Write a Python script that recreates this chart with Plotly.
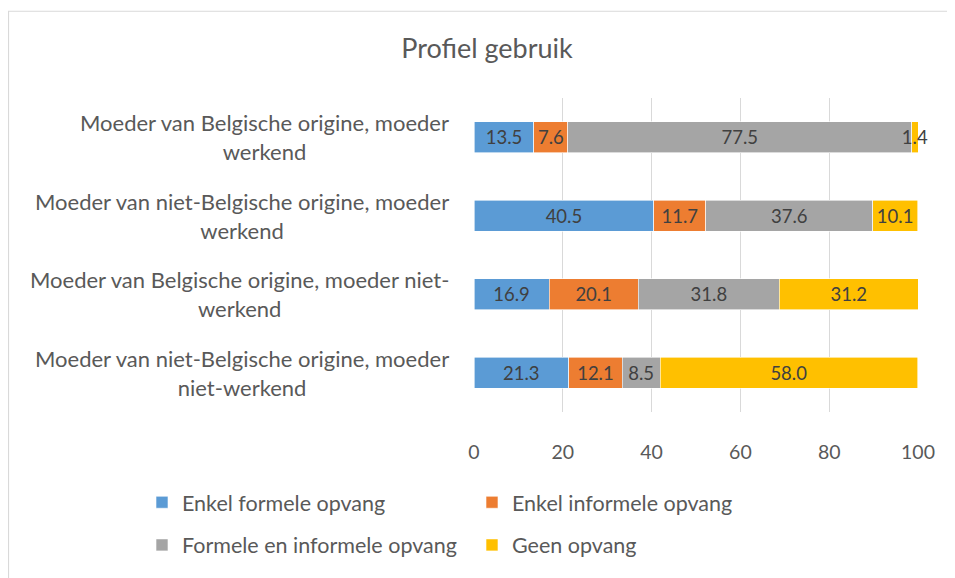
import plotly.graph_objects as go

categories = [
    "Moeder van Belgische origine, moeder werkend",
    "Moeder van niet-Belgische origine, moeder werkend",
    "Moeder van Belgische origine, moeder niet-werkend",
    "Moeder van niet-Belgische origine, moeder niet-werkend",
]
category_labels = [
    "Moeder van Belgische origine, moeder<br>werkend",
    "Moeder van niet-Belgische origine, moeder<br>werkend",
    "Moeder van Belgische origine, moeder niet-<br>werkend",
    "Moeder van niet-Belgische origine, moeder<br>niet-werkend",
]
series_names = [
    "Enkel formele opvang",
    "Enkel informele opvang",
    "Formele en informele opvang",
    "Geen opvang",
]
enkel_formele = [13.5, 40.5, 16.9, 21.3]
enkel_informele = [7.6, 11.7, 20.1, 12.1]
formele_en_informele = [77.5, 37.6, 31.8, 8.5]
geen_opvang = [1.4, 10.1, 31.2, 58.0]
x_ticks = [0, 20, 40, 60, 80, 100]
colors = ["#5B9BD5", "#ED7D31", "#A5A5A5", "#FFC000"]

FONT = "Lato"
TXT = "#595959"
OFF = 8  # page body margin
VW, VH = 955, 578
W, H = VW - OFF, VH - OFF
# plot area in reference (viewport) pixels
PL, PR, PT, PB = 474, 918, 98, 422
PW, PH = PR - PL, PB - PT

def px_x(p):
    return (p - PL) / PW

def px_y(p):
    return (PB - p) / PH

fig = go.Figure()
series = [enkel_formele, enkel_informele, formele_en_informele, geen_opvang]
legends = ["legend", "legend", "legend2", "legend2"]
for name, vals, col, lg in zip(series_names, series, colors, legends):
    fig.add_trace(go.Bar(
        y=categories, x=vals, name=name, orientation="h",
        marker=dict(color=col, line=dict(color="white", width=0.6)),
        text=vals, texttemplate="%{x:.1f}", textposition="inside",
        insidetextanchor="middle", constraintext="none", textangle=0,
        textfont=dict(family=FONT, size=18.5, color="#404040"),
        cliponaxis=False, legend=lg,
    ))

for cat, lab in zip(categories, category_labels):
    fig.add_annotation(
        x=px_x(451), xref="paper", y=cat, yref="y", text=lab,
        xanchor="right", yanchor="middle", align="center", showarrow=False,
        font=dict(family=FONT, size=22, color=TXT),
    )

# chart border (cropped)
fig.add_shape(type="rect", xref="paper", yref="paper",
              x0=px_x(8.5), x1=px_x(1200), y0=px_y(8.5), y1=px_y(800),
              line=dict(color="#D9D9D9", width=1.2), layer="below")

leg_common = dict(orientation="h", xanchor="left", yanchor="top",
                  entrywidth=285, font=dict(family=FONT, size=21.5, color=TXT),
                  bgcolor="rgba(0,0,0,0)", itemclick=False,
                  traceorder="normal")

fig.update_layout(
    width=W, height=H,
    margin=dict(l=PL - OFF, r=W - (PR - OFF), t=PT - OFF, b=H - (PB - OFF)),
    paper_bgcolor="white", plot_bgcolor="white",
    barmode="stack", bargap=0.6,
    title=dict(text="Profiel gebruik", x=px_x(487), xanchor="center",
               xref="paper", y=1 - (49 - OFF) / H, yanchor="middle",
               font=dict(family=FONT, size=27, color=TXT)),
    xaxis=dict(range=[0, 100], tickvals=x_ticks, showgrid=True,
               gridcolor="#D9D9D9", gridwidth=1.2, zeroline=False,
               showline=False, ticks="", ticklabelstandoff=26,
               tickfont=dict(family=FONT, size=19.5, color=TXT)),
    yaxis=dict(categoryorder="array", categoryarray=categories,
               autorange="reversed", showticklabels=False, showgrid=False,
               zeroline=False, showline=False),
    legend=dict(x=px_x(142), y=px_y(494), **leg_common),
    legend2=dict(x=px_x(142), y=px_y(538), **leg_common),
    showlegend=True,
)

fig.write_html("out.html")
